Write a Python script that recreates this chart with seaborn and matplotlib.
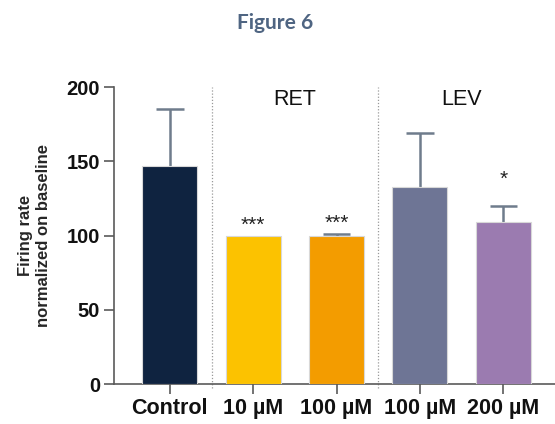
import matplotlib
matplotlib.use("Agg")
import matplotlib.pyplot as plt
import seaborn as sns
import numpy as np
import pandas as pd

# ---- data ----
groups = ["Control", "RET 10", "RET 100", "LEV 100", "LEV 200"]
tick_labels = ["Control", "10 µM", "100 µM", "100 µM", "200 µM"]
means = [147, 100, 100, 133, 109]
sd = [38, 0, 1, 36, 11]
signif = ["", "***", "***", "", "*"]
colors = ["#0f2340", "#fcc200", "#f39c00", "#6e7595", "#9b7bb0"]
section_labels = ["RET", "LEV"]

sns.set_style("ticks")
plt.rcParams['font.family'] = ['Liberation Sans', 'DejaVu Sans']

fig = plt.figure(figsize=(5.55, 4.24), dpi=100)
ax = fig.add_axes([0.2054, 0.0943, 0.7946, 0.7000])

df = pd.DataFrame({"group": groups, "mean": means})
sns.barplot(data=df, x="group", y="mean", hue="group", palette=colors,
            order=groups, hue_order=groups, width=0.66, errorbar=None,
            saturation=1, legend=False, edgecolor="#d8d8d8", linewidth=0.8,
            ax=ax, zorder=3)

xpos = np.arange(len(groups))
means_a = np.array(means, dtype=float)
sd_a = np.array(sd, dtype=float)
has = sd_a > 0
tops = means_a + sd_a
ax.vlines(xpos[has], means_a[has], tops[has], color="#6f7c8c", linewidth=1.8,
          zorder=2)
ax.hlines(tops[has], xpos[has] - 0.165, xpos[has] + 0.165, color="#6f7c8c",
          linewidth=1.8, zorder=2)

for x, m, s, lab in zip(xpos, means, sd, signif):
    if lab:
        y = m + s + (7 if s < 5 else 18)
        ax.text(x, y, lab, ha="center", va="center", fontsize=15,
                color="#222222")

# dotted separators
for xs in [0.5, 2.5]:
    ax.plot([xs, xs], [-3, 200], linestyle=(0, (1, 1.5)), color="#9a9a9a",
            linewidth=0.9, clip_on=False, zorder=1)

ax.text(1.5, 192, section_labels[0], ha="center", va="center", fontsize=15.5,
        color="#111111")
ax.text(3.5, 192, section_labels[1], ha="center", va="center", fontsize=15.5,
        color="#111111")

ax.set_ylim(0, 200)
ax.set_xlim(-0.67, 4.62)
ax.set_yticks([0, 50, 100, 150, 200])
ax.set_xticks(xpos)
ax.set_xticklabels(tick_labels, fontsize=15.5, fontweight="bold")
for t in ax.get_yticklabels():
    t.set_fontsize(14.5)
    t.set_fontweight("bold")
ax.set_xlabel("")
ax.set_ylabel("Firing rate\nnormalized on baseline", fontsize=12,
              fontweight="bold", labelpad=11, linespacing=1.3)

for side in ["top", "right"]:
    ax.spines[side].set_visible(False)
for side in ["left", "bottom"]:
    ax.spines[side].set_color("#5a5a5a")
    ax.spines[side].set_linewidth(1.2)
ax.tick_params(axis="both", colors="#5a5a5a", width=1.2, length=7,
               labelcolor="#111111", pad=3)

fig.text(0.495, 0.946, "Figure 6", ha="center", va="center", fontsize=15,
         fontweight="bold", color="#4f6582", family=["Lato", "DejaVu Sans"])

fig.savefig("out.png", dpi=100, facecolor="white")
